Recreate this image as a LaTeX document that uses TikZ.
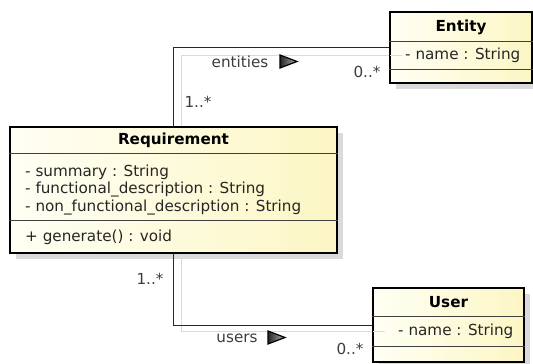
\documentclass[tikz,border=0pt]{standalone}
\usepackage{fontspec}
\setmainfont{DejaVu Sans}
\usetikzlibrary{backgrounds}
\definecolor{boxL}{RGB}{255,255,244}
\definecolor{boxR}{RGB}{252,246,196}
\definecolor{lbl}{RGB}{60,60,60}
\definecolor{shd}{RGB}{218,218,218}
\definecolor{lnk}{RGB}{40,40,40}

\begin{document}
\begin{tikzpicture}[x=1pt,y=-1pt,
  every node/.style={font=\fontsize{15.2}{18}\selectfont},
  classbox/.style={draw=black, line width=2.6pt, left color=boxL, right color=boxR, inner sep=0pt},
  hdr/.style={font=\fontsize{15.2}{18}\selectfont\bfseries, text=black, inner sep=0pt},
  attr/.style={anchor=west, text=black!85, inner sep=0pt},
  divider/.style={draw=black!75, line width=0.9pt},
  link/.style={draw=lnk, line width=1pt},
  linkshadow/.style={draw=shd, line width=1pt},
  mult/.style={text=lbl, inner sep=0pt},
  navtri/.style={draw=black, line width=1.2pt, line join=miter, left color=black!85, right color=black!30}
]
\useasboundingbox (0,0) rectangle (533,364);
\clip (0,0) rectangle (533,364);

% class boxes
\node[classbox, minimum width=327pt, minimum height=126pt] (req) at (173.5,190) {};
\node[classbox, minimum width=142pt, minimum height=71pt] (ent) at (461,47.5) {};
\node[classbox, minimum width=151pt, minimum height=74pt] (usr) at (448.5,325) {};

% drop shadows behind the boxes and the links
\begin{pgfonlayer}{background}
  \fill[shd] (16,133) rectangle (343,259);
  \fill[shd] (396,18) rectangle (538,89);
  \fill[shd] (379,294) rectangle (530,368);
  \draw[linkshadow] (181,127) |- (390,55);
  \draw[linkshadow] (181,259) |- (373,331);
\end{pgfonlayer}

% Requirement
\node[hdr] (reqname) at (173.5,140) {Requirement};
\draw[divider] (req.west |- 0,153) -- (req.east |- 0,153);
\node[attr] (reqa1) at (25,172) {- summary : String};
\node[attr] (reqa2) at (25,190) {- functional\_description : String};
\node[attr] (reqa3) at (25,208) {- non\_functional\_description : String};
\draw[divider] (req.west |- 0,220) -- (req.east |- 0,220);
\node[attr] (reqm1) at (25,237) {+ generate() : void};

% Entity
\node[hdr] (entname) at (461,27) {Entity};
\draw[divider] (ent.west |- 0,41) -- (ent.east |- 0,41);
\node[attr] (enta1) at (405,55) {- name : String};
\draw[divider] (ent.west |- 0,69) -- (ent.east |- 0,69);

% User
\node[hdr] (usrname) at (448.5,302) {User};
\draw[divider] (usr.west |- 0,316) -- (usr.east |- 0,316);
\node[attr] (usra1) at (398,331) {- name : String};
\draw[divider] (usr.west |- 0,346) -- (usr.east |- 0,346);

% associations
\draw[link] (req.north) |- (ent.west);
\draw[link] (req.south) |- (usr.west);
\draw[linkshadow] (390,55) -- (402,55);
\draw[linkshadow] (373,331) -- (385,331);

% association labels with navigability triangles
\node[mult] (entlbl) at (240,62) {entities};
\coordinate (enttri) at (288,61.5);
\draw[navtri] (enttri) ++(-8,-6.5) -- ++(17,6.5) -- ++(-17,6.5) -- cycle;
\node[mult] (entmul) at (367,72) {0..*};
\node[mult] (reqmul1) at (198,102) {1..*};

\node[mult] (usrlbl) at (237,338) {users};
\coordinate (usrtri) at (276,337.5);
\draw[navtri] (usrtri) ++(-8,-6.5) -- ++(17,6.5) -- ++(-17,6.5) -- cycle;
\node[mult] (usrmul) at (350,349) {0..*};
\node[mult] (reqmul2) at (150,279) {1..*};
\end{tikzpicture}
\end{document}
